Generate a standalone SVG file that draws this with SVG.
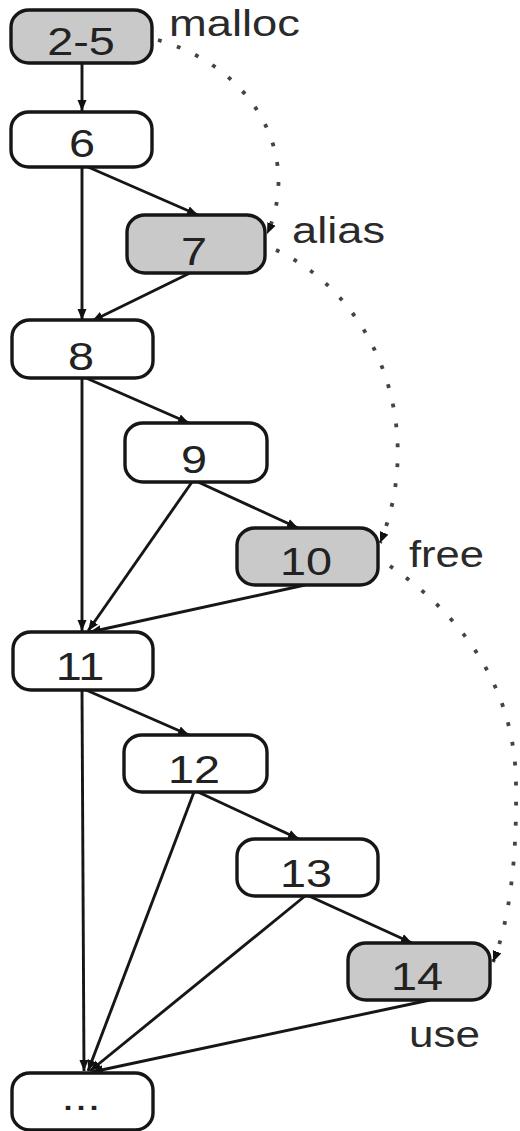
<svg xmlns="http://www.w3.org/2000/svg" width="520" height="1131" viewBox="0 0 520 1131">
  <style>
    .node rect { stroke: #161616; stroke-width: 3.4; }
    .plain rect { fill: #ffffff; }
    .marked rect { fill: #c9c9c9; }
    .num { font-family: "Liberation Sans", Arial, sans-serif; font-size: 39px; fill: #222222; text-anchor: middle; }
    .tag { font-family: "Liberation Sans", Arial, sans-serif; font-size: 36px; fill: #2a2a2a; }
    .flow line { stroke: #161616; stroke-width: 2.9; marker-end: url(#arrow); }
    .track path { fill: none; stroke: #444444; stroke-width: 3.8; stroke-dasharray: 3.8 16.2; marker-end: url(#dotArrow); }
  </style>
  <defs>
    <marker id="arrow" markerUnits="userSpaceOnUse" markerWidth="12" markerHeight="10" refX="11" refY="5" orient="auto">
      <path d="M0,0.5 L11,5 L0,9.5 z" fill="#111"/>
    </marker>
    <marker id="dotArrow" markerUnits="userSpaceOnUse" markerWidth="12" markerHeight="10" refX="11" refY="5" orient="auto">
      <path d="M0,0.5 L11,5 L0,9.5 z" fill="#111"/>
    </marker>
  </defs>

  <rect width="520" height="1131" fill="#ffffff"/>

  <!-- control-flow edges -->
  <g id="edges" class="flow">
    <line x1="82" y1="63" x2="82" y2="111"/>
    <line x1="88" y1="167" x2="198" y2="215"/>
    <line x1="82" y1="167" x2="82" y2="320"/>
    <line x1="190" y1="273" x2="92" y2="321"/>
    <line x1="86" y1="378" x2="189" y2="423"/>
    <line x1="82" y1="378" x2="82" y2="631"/>
    <line x1="198" y1="482" x2="298" y2="528"/>
    <line x1="192" y1="482" x2="88" y2="631"/>
    <line x1="305" y1="585" x2="90" y2="632"/>
    <line x1="86" y1="690" x2="189" y2="735"/>
    <line x1="82" y1="690" x2="84" y2="1071"/>
    <line x1="198" y1="792" x2="299" y2="839"/>
    <line x1="194" y1="792" x2="88" y2="1071"/>
    <line x1="309" y1="896" x2="412" y2="943"/>
    <line x1="305" y1="896" x2="90" y2="1071"/>
    <line x1="430" y1="1000" x2="92" y2="1072"/>
  </g>

  <!-- dotted data-flow chain: malloc -> alias -> free -> use -->
  <g id="chain" class="track">
    <path d="M158,40 A177,149 0 0 1 267,234"/>
    <path d="M276,250 A200,220 0 0 1 380,543"/>
    <path d="M390,566 C448,606 516,676 516,786 C517,856 510,920 493,962"/>
  </g>

  <g id="n2-5" class="node marked">
    <rect x="11" y="10" width="141" height="53" rx="18" ry="17"/>
    <text class="num" transform="translate(81,55) scale(1.2,1)">2-5</text>
  </g>
  <g id="n6" class="node plain">
    <rect x="11" y="112" width="141" height="55" rx="18" ry="17"/>
    <text class="num" transform="translate(82,157) scale(1.2,1)">6</text>
  </g>
  <g id="n7" class="node marked">
    <rect x="127" y="215" width="138" height="58" rx="18" ry="17"/>
    <text class="num" transform="translate(194,265) scale(1.2,1)">7</text>
  </g>
  <g id="n8" class="node plain">
    <rect x="12" y="320" width="141" height="58" rx="18" ry="17"/>
    <text class="num" transform="translate(81,370) scale(1.2,1)">8</text>
  </g>
  <g id="n9" class="node plain">
    <rect x="125" y="423" width="142" height="59" rx="18" ry="17"/>
    <text class="num" transform="translate(194,473) scale(1.2,1)">9</text>
  </g>
  <g id="n10" class="node marked">
    <rect x="237" y="528" width="141" height="57" rx="18" ry="17"/>
    <text class="num" transform="translate(306,575) scale(1.2,1)">10</text>
  </g>
  <g id="n11" class="node plain">
    <rect x="13" y="632" width="140" height="58" rx="18" ry="17"/>
    <text class="num" transform="translate(80,680) scale(1.2,1)">11</text>
  </g>
  <g id="n12" class="node plain">
    <rect x="124" y="735" width="143" height="57" rx="18" ry="17"/>
    <text class="num" transform="translate(194,783) scale(1.2,1)">12</text>
  </g>
  <g id="n13" class="node plain">
    <rect x="237" y="839" width="141" height="57" rx="18" ry="17"/>
    <text class="num" transform="translate(306,887) scale(1.2,1)">13</text>
  </g>
  <g id="n14" class="node marked">
    <rect x="348" y="943" width="142" height="57" rx="18" ry="17"/>
    <text class="num" transform="translate(417,990) scale(1.2,1)">14</text>
  </g>
  <g id="nEnd" class="node plain">
    <rect x="12" y="1073" width="141" height="57" rx="18" ry="17"/>
    <text class="num" transform="translate(81,1110) scale(1.2,1)">...</text>
  </g>

  <!-- event labels -->
  <g id="labels">
    <text class="tag" x="169" y="36" textLength="131" lengthAdjust="spacingAndGlyphs">malloc</text>
    <text class="tag" x="292" y="243" textLength="93" lengthAdjust="spacingAndGlyphs">alias</text>
    <text class="tag" x="409" y="567" textLength="75" lengthAdjust="spacingAndGlyphs">free</text>
    <text class="tag" x="409" y="1047" textLength="71" lengthAdjust="spacingAndGlyphs">use</text>
  </g>
</svg>
